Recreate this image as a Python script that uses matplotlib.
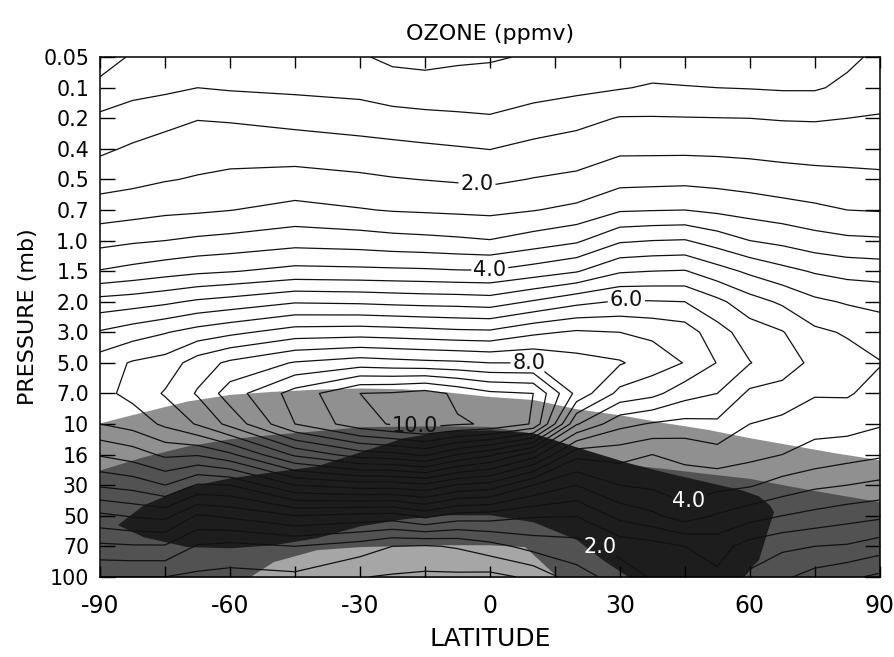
import numpy as np
import matplotlib.pyplot as plt

# pressure levels (mb); drawn evenly spaced, top to bottom
pressure = ["0.05", "0.1", "0.2", "0.4", "0.5", "0.7", "1.0", "1.5", "2.0",
            "3.0", "5.0", "7.0", "10", "16", "30", "50", "70", "100"]
lat = [-90, -82.5, -75, -67.5, -60, -45, -30, -22.5, -15, -7.5, 0, 10, 20, 30,
       37.5, 45, 52.5, 60, 67.5, 75, 82.5, 90]
lat_ticks = [-90, -60, -30, 0, 30, 60, 90]
lat_labels = ["-90", "-60", "-30", "0", "30", "60", "90"]

# ozone mixing ratio (ppmv) at each latitude, 0.05 mb down to 100 mb
oz_s90 = [0.2, 0.67, 1.09, 1.41, 1.79, 2.23, 2.83, 3.53, 4.69, 5.55, 6.25, 6.35, 6.0, 5.05, 4.07, 2.9, 1.9, 1.0]
oz_s82 = [0.58, 0.85, 1.21, 1.57, 1.87, 2.3, 2.93, 3.66, 4.77, 5.77, 6.55, 6.65, 6.2, 5.25, 4.2, 3.05, 1.95, 1.0]
oz_s75 = [0.55, 0.9, 1.35, 1.69, 1.97, 2.39, 3.0, 3.79, 4.9, 5.97, 6.7, 7.05, 6.6, 5.6, 4.5, 3.15, 1.95, 1.0]
oz_s68 = [0.6, 1.0, 1.48, 1.77, 2.04, 2.43, 3.09, 3.9, 5.08, 6.2, 7.25, 7.55, 7.05, 5.55, 3.95, 2.45, 1.45, 0.9]
oz_s60 = [0.6, 0.95, 1.45, 1.79, 2.11, 2.49, 3.15, 3.97, 5.19, 6.38, 7.6, 8.25, 7.65, 5.9, 4.0, 2.6, 1.35, 0.85]
oz_s45 = [0.6, 0.9, 1.34, 1.77, 2.17, 2.65, 3.3, 4.15, 5.45, 6.73, 8.04, 9.2, 9.0, 7.1, 5.0, 3.0, 1.5, 0.9]
oz_s30 = [0.55, 0.85, 1.24, 1.69, 2.09, 2.53, 3.24, 4.12, 5.41, 6.77, 8.25, 10.0, 9.8, 7.75, 5.25, 2.85, 1.25, 0.52]
oz_s22 = [0.4, 0.72, 1.18, 1.64, 2.03, 2.47, 3.17, 4.1, 5.36, 6.73, 8.18, 10.05, 10.05, 7.85, 5.25, 2.8, 1.0, 0.45]
oz_s15 = [0.35, 0.7, 1.12, 1.59, 1.99, 2.44, 3.13, 4.08, 5.32, 6.68, 8.12, 10.2, 10.2, 8.1, 5.4, 3.15, 0.95, 0.4]
oz_s08 = [0.42, 0.71, 1.08, 1.54, 1.95, 2.41, 3.08, 4.04, 5.3, 6.62, 8.08, 9.9, 10.05, 7.5, 4.95, 2.8, 1.05, 0.4]
oz_eq = [0.45, 0.73, 1.04, 1.49, 1.91, 2.38, 3.02, 4.03, 5.25, 6.6, 8.0, 9.6, 9.95, 7.1, 4.8, 2.75, 1.3, 0.35]
oz_n10 = [0.55, 0.8, 1.2, 1.64, 2.02, 2.48, 3.22, 4.23, 5.55, 6.9, 8.0, 9.5, 9.45, 6.25, 4.0, 2.55, 1.7, 0.6]
oz_n20 = [0.6, 0.88, 1.34, 1.74, 2.1, 2.62, 3.42, 4.46, 5.86, 7.07, 7.7, 7.85, 6.55, 4.65, 3.5, 2.52, 1.8, 1.3]
oz_n30 = [0.7, 0.97, 1.53, 1.9, 2.33, 2.95, 3.93, 4.94, 6.05, 7.0, 7.55, 6.85, 5.65, 4.7, 4.0, 3.15, 2.2, 1.7]
oz_n38 = [0.72, 1.05, 1.53, 1.9, 2.35, 2.98, 4.0, 5.0, 6.03, 6.9, 7.25, 6.65, 5.45, 4.5, 4.1, 3.4, 2.3, 2.05]
oz_n45 = [0.75, 1.02, 1.52, 1.9, 2.37, 3.0, 4.03, 5.03, 6.0, 6.75, 6.98, 6.2, 5.35, 4.6, 4.3, 3.75, 2.5, 2.2]
oz_n52 = [0.75, 1.0, 1.51, 1.89, 2.33, 2.9, 3.77, 4.7, 5.62, 6.2, 6.48, 6.0, 5.4, 4.8, 4.15, 3.45, 2.7, 2.4]
oz_n60 = [0.75, 0.98, 1.5, 1.87, 2.27, 2.8, 3.5, 4.4, 5.2, 5.75, 6.02, 5.4, 5.0, 4.65, 4.05, 3.2, 2.3, 1.9]
oz_n68 = [0.78, 0.95, 1.47, 1.84, 2.2, 2.7, 3.37, 4.15, 4.92, 5.53, 5.7, 5.35, 4.85, 4.5, 3.8, 3.0, 2.1, 1.6]
oz_n75 = [0.8, 0.95, 1.46, 1.81, 2.16, 2.6, 3.2, 3.95, 4.6, 5.1, 5.4, 5.05, 4.65, 4.35, 3.6, 2.85, 2.0, 1.3]
oz_n82 = [0.9, 1.1, 1.5, 1.83, 2.11, 2.5, 3.1, 3.83, 4.45, 4.95, 5.2, 5.05, 4.7, 4.2, 3.5, 2.7, 1.95, 1.1]
oz_n90 = [1.1, 1.2, 1.55, 1.81, 2.09, 2.47, 3.07, 3.78, 4.39, 4.71, 5.03, 4.82, 4.55, 4.08, 3.38, 2.6, 1.75, 0.9]

# shading boundaries (in pressure-level index units, 0 = 0.05 mb)
shade_lat = list(range(-90, 91, 10))
light_top = [11.96, 11.6, 11.25, 11.03, 10.93, 10.86, 10.82, 10.85, 10.95, 11.1,
             11.2, 11.5, 11.7, 11.95, 12.17, 12.45, 12.7, 12.95, 13.17]
dark_top = [13.5, 13.07, 12.72, 12.48, 12.34, 12.22, 12.09, 12.07, 12.06, 12.08,
            12.3, 13.0, 13.3, 13.45, 13.62, 13.78, 14.05, 14.3, 14.54]
black_lat = [-86, -80, -70, -60, -50, -40, -30, -20, -10, 0, 10, 20, 26, 32, 40, 50, 58, 62, 64.5, 65.5]
black_top = [15.29, 14.64, 14.05, 13.76, 13.56, 13.37, 12.91, 12.45, 12.22, 12.19,
             12.29, 12.75, 13.01, 13.27, 13.56, 13.89, 14.15, 14.35, 14.64, 14.87]
black_bot = [15.29, 15.69, 16.01, 16.05, 15.95, 15.72, 15.33, 15.10, 14.97, 14.97,
             15.2, 15.78, 16.44, 17, 17, 17, 17, 16.44, 15.29, 14.87]
pale_lat = [-55.5, -50, -40, -30, -20, -10, 0, 8, 12, 15.5]
pale_top = [17.0, 16.5, 16.11, 16.01, 15.98, 15.95, 15.95, 16.01, 16.53, 17.0]

labelled = [2.0, 4.0, 6.0, 8.0, 10.0]

ozone = np.column_stack([oz_s90, oz_s82, oz_s75, oz_s68, oz_s60, oz_s45, oz_s30,
                         oz_s22, oz_s15, oz_s08, oz_eq, oz_n10, oz_n20, oz_n30,
                         oz_n38, oz_n45, oz_n52, oz_n60, oz_n68, oz_n75, oz_n82, oz_n90])
yidx = np.arange(len(pressure))
bottom = len(pressure) - 1

fig = plt.figure(figsize=(8.94, 6.57), dpi=100)
ax = fig.add_axes([0.112, 0.122, 0.872, 0.791])

ax.fill_between(shade_lat, light_top, bottom, color="#909090", lw=0)
ax.fill_between(shade_lat, dark_top, bottom, color="#525252", lw=0)
ax.fill_between(black_lat, black_top, black_bot, color="#1d1d1d", lw=0)
ax.fill_between(pale_lat, pale_top, bottom, color="#a6a6a6", lw=0)

levels = np.arange(0.5, 10.01, 0.5)
plain = [v for v in levels if v not in labelled]
ax.contour(lat, yidx, ozone, levels=plain, colors="#111111", linewidths=0.9)
cs = ax.contour(lat, yidx, ozone, levels=labelled, colors="#111111", linewidths=0.9)
t1 = ax.clabel(cs, manual=[(-3, 4.2), (0, 7.0), (31.5, 7.95), (9, 10.1), (-17, 11.55)],
               fmt="%.1f", fontsize=15, inline_spacing=2)
t2 = ax.clabel(cs, manual=[(46, 14.55), (25.4, 16.05)],
               fmt="%.1f", fontsize=15, inline_spacing=2, colors="white")
for t in list(t1) + list(t2):
    t.set_rotation(0)

ax.set_xlim(-90, 90)
ax.set_ylim(bottom, 0)
ax.set_xticks(lat_ticks)
ax.set_xticklabels(lat_labels)
ax.set_xticks(range(-90, 91, 15), minor=True)
ax.set_yticks(yidx)
ax.set_yticklabels(pressure)
ax.tick_params(axis="x", which="both", direction="in", top=True, length=8,
               labelsize=17, pad=12, width=1)
ax.tick_params(axis="y", direction="in", right=True, length=11,
               labelsize=14.8, pad=8, width=1)
for s in ax.spines.values():
    s.set_linewidth(1.1)

ax.set_title("OZONE (ppmv)", fontsize=16, pad=12)
ax.set_xlabel("LATITUDE", fontsize=18, labelpad=7)
ax.set_ylabel("PRESSURE (mb)", fontsize=16, labelpad=4)

fig.savefig("out.png", dpi=100)
